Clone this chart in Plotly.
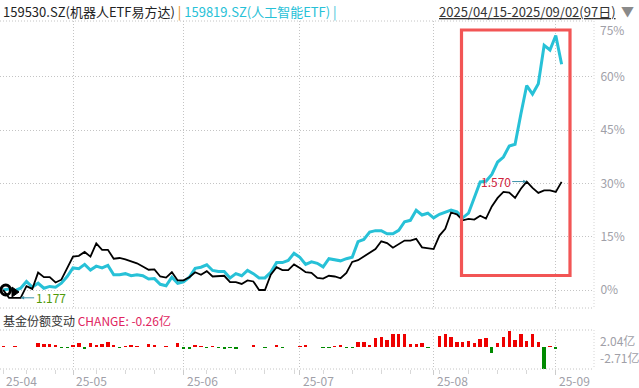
import plotly.graph_objects as go
import pandas as pd

# ---------------- data ----------------
holidays = ["2025-05-01", "2025-05-02", "2025-05-05", "2025-06-02"]
dates = [d for d in pd.bdate_range("2025-04-15", "2025-09-02") if d.strftime("%Y-%m-%d") not in holidays]
idx = list(range(len(dates)))

# 159530.SZ 机器人ETF易方达, cumulative return (%)
robot_pct = [0, -2.2, -2.2, -2.2, 1.1, 0.3, 4.9, 3.6, 3.6, 2.1,
             2.9, 6.2, 9.4, 9.6, 10.7, 9.4, 13.1, 11.3, 11.3, 8.8,
             9.0, 8.6, 8.1, 7.5, 6.6, 5.7, 5.8, 3.8, 3.5, 5.0,
             2.7, 2.7, 3.6, 5.0, 4.3, 5.3, 3.8, 3.8, 4.0, 2.2,
             2.2, 1.7, 2.7, 2.4, 0.0, 0.0, 4.3, 6.4, 5.6, 5.6,
             7.2, 6.2, 5.0, 4.8, 3.4, 3.2, 4.0, 3.8, 3.3, 4.8,
             7.9, 8.4, 9.4, 10.5, 11.5, 13.7, 13.2, 11.9, 12.9, 13.9,
             13.9, 14.4, 12.0, 11.7, 11.5, 15.3, 17.2, 21.8, 21.3, 19.6,
             20.0, 19.8, 20.9, 20.1, 23.5, 25.9, 27.6, 27.4, 25.9, 28.5,
             30.5, 28.7, 27.3, 28.0, 28.0, 27.6, 30.4]

# 159819.SZ 人工智能ETF, cumulative return (%)
ai_pct = [0, 0.3, -0.2, 0.5, 2.4, 0.8, 1.9, 0.5, 1.0, 0.8,
          1.9, 3.8, 6.2, 6.0, 7.2, 5.6, 6.7, 6.2, 6.9, 4.3,
          4.3, 4.6, 4.0, 4.3, 4.0, 3.1, 3.2, 1.6, 1.2, 3.6,
          1.9, 2.3, 3.6, 6.1, 6.4, 7.1, 5.5, 5.2, 5.2, 3.4,
          4.6, 4.0, 5.5, 4.6, 3.4, 3.4, 5.0, 7.7, 7.7, 8.3,
          10.3, 9.2, 7.2, 7.9, 7.5, 6.5, 8.8, 8.5, 8.2, 8.8,
          9.2, 13.6, 14.2, 16.3, 16.7, 16.7, 15.8, 15.8, 16.8, 19.2,
          19.6, 22.4, 21.1, 21.6, 20.3, 21.3, 21.8, 22.5, 22.0, 20.3,
          21.6, 26.0, 30.4, 30.6, 32.5, 36.0, 37.4, 40.5, 41.0, 49.5,
          57.5, 55.1, 58.0, 68.8, 67.5, 71.6, 63.5]

# 基金份额变动 (亿份)
share_chg = [0.21, 0.08, 0.21, 0.08, 0.08, 0.08, 0.58, 0.46, 0.46, 0.33,
             -0.08, -0.08, 0.33, 0.58, -0.17, 0.58, 0.33, 0.46, 0.71, 0.33,
             -0.08, 0.21, 0.33, 0.21, 0.08, 0.46, 0.33, None, 0.21, 0.08,
             0.58, -0.21, -0.21, 0.33, 0.21, -0.08, 0.21, -0.08, -0.17, -0.08,
             -0.17, None, 0.08, 0.33, 0.08, -0.08, 0.08, 0.33, -0.08, 0.08,
             None, 0.21, 0.33, 0.08, 0.08, -0.06, -0.06, 0.17, 0.25, -0.06,
             -0.06, 0.71, 0.71, 0.29, 1.21, 1.33, 0.92, 1.63, 1.75, 1.67,
             0.42, 0.42, 0.50, -0.05, None, 1.46, 1.63, 1.33, 0.63, 0.71,
             0.79, 0.58, 1.04, 1.21, -0.67, 0.58, 1.33, 2.04, 0.92, 1.63,
             0.83, 1.67, 0.71, -2.71, 0.17, -0.26, None]

robot_min_price = "1.177"
robot_max_price = "1.570"
y_ticks = [0, 15, 30, 45, 60]
y_ticktext = ["0%", "15%", "30%", "45%", "60%"]

# ---------------- helpers ----------------
W, H = 639, 388
def px_x(p):
    return p / W
def px_y(p):
    return 1 - p / H

month_idx = [i for i in range(1, len(dates)) if dates[i].month != dates[i - 1].month]
month_lbl_idx = [0] + month_idx
month_lbl = [dates[i].strftime("%y-%m") for i in month_lbl_idx]
week_idx = [0] + [i for i in range(1, len(dates)) if dates[i].isocalendar()[1] != dates[i - 1].isocalendar()[1]]

FONT = "Noto Sans CJK SC, Microsoft YaHei, sans-serif"
GRID = "#c4c4c4"
DOT = "1px,2px"

x_range = [-0.55, 101.57]
plot_right = 594

fig = go.Figure()
fig.add_trace(go.Scatter(x=idx, y=ai_pct, mode="lines", line=dict(color="#27c1d7", width=3),
                         xaxis="x", yaxis="y", hoverinfo="skip"))
fig.add_trace(go.Scatter(x=idx, y=robot_pct, mode="lines", line=dict(color="#000000", width=1.8),
                         xaxis="x", yaxis="y", hoverinfo="skip"))
bar_colors = ["#ee0000" if (v is not None and v >= 0) else "#008a00" for v in share_chg]
fig.add_trace(go.Bar(x=idx, y=share_chg, marker=dict(color=bar_colors, line=dict(width=0)),
                     width=0.58, xaxis="x2", yaxis="y2", hoverinfo="skip"))

ppp = 53.33 / 15.0  # px per percent
fig.update_layout(
    width=W, height=H,
    margin=dict(l=0, r=0, t=0, b=0),
    paper_bgcolor="white", plot_bgcolor="white",
    showlegend=False, bargap=0, hovermode=False,
    font=dict(family=FONT, size=12, color="#999999"),
    xaxis=dict(domain=[0, px_x(plot_right)], range=x_range, anchor="y",
               tickvals=month_idx, showticklabels=False, ticks="",
               showgrid=True, gridcolor=GRID, griddash=DOT, gridwidth=1,
               zeroline=False, showline=False, fixedrange=True),
    yaxis=dict(domain=[px_y(308), px_y(21)],
               range=[(290 - 308) / ppp, (290 - 21) / ppp], anchor="x", side="right",
               tickvals=y_ticks, ticktext=y_ticktext, ticks="outside", ticklen=3,
               tickcolor="rgba(0,0,0,0)",
               tickfont=dict(family=FONT, size=12, color="#a0a0a8"),
               showgrid=True, gridcolor=GRID, griddash=DOT, gridwidth=1,
               zeroline=False, showline=False, fixedrange=True),
    xaxis2=dict(domain=[0, px_x(plot_right)], range=x_range, anchor="y2", matches="x",
                tickvals=month_idx, showticklabels=False, ticks="outside", ticklen=5,
                tickcolor="#cccccc",
                minor=dict(tickvals=week_idx, ticks="outside", ticklen=4, tickcolor="#d8d8d8", showgrid=False),
                showgrid=True, gridcolor=GRID, griddash=DOT, gridwidth=1,
                zeroline=False, showline=False, fixedrange=True),
    yaxis2=dict(domain=[px_y(369), px_y(330)], range=[-2.75, 2.2], anchor="x2",
                showticklabels=False, showgrid=False, zeroline=False, fixedrange=True),
)

shapes = []
# panel borders (dotted)
for yy in (21, 308, 330, 369):
    shapes.append(dict(type="line", xref="paper", yref="paper", x0=0, x1=px_x(plot_right),
                       y0=px_y(yy), y1=px_y(yy), line=dict(color=GRID, width=1, dash=DOT)))
for (a, b) in ((21, 308), (330, 369)):
    shapes.append(dict(type="line", xref="paper", yref="paper", x0=px_x(plot_right), x1=px_x(plot_right),
                       y0=px_y(a), y1=px_y(b), line=dict(color="#d4d4d4", width=1, dash=DOT)))
# highlight box
shapes.append(dict(type="rect", xref="paper", yref="paper", x0=px_x(461.5), x1=px_x(570),
                   y0=px_y(275.5), y1=px_y(30), line=dict(color="#f25555", width=3.2)))
# small logo at the left start
shapes.append(dict(type="circle", xref="paper", yref="paper", x0=px_x(1), x1=px_x(10.5),
                   y0=px_y(295), y1=px_y(285), line=dict(color="black", width=3)))
shapes.append(dict(type="path", xref="paper", yref="paper",
                   path=f"M {px_x(12)} {px_y(287)} L {px_x(19)} {px_y(292)} L {px_x(12)} {px_y(297)} Z",
                   fillcolor="black", line=dict(color="black", width=1)))
fig.update_layout(shapes=shapes)

ann = []
# header
ann.append(dict(xref="paper", yref="paper", x=px_x(1), y=px_y(11), xanchor="left", yanchor="middle",
                showarrow=False, font=dict(family=FONT, size=13, color="#222222"),
                text="159530.SZ(机器人ETF易方达) <span style='color:#e8890c'>|</span> "
                     "<span style='color:#27c1d7'>159819.SZ(人工智能ETF) |</span>"))
ann.append(dict(xref="paper", yref="paper", x=px_x(618), y=px_y(11), xanchor="right", yanchor="middle",
                showarrow=False, font=dict(family=FONT, size=13, color="#333333"),
                text="<u>2025/04/15-2025/09/02(97日)</u>"))
ann.append(dict(xref="paper", yref="paper", x=px_x(627), y=px_y(10), xanchor="center", yanchor="middle",
                showarrow=False, font=dict(family=FONT, size=13, color="#8a8a8a"), text="▼"))
# top y label (clamped inside)
ann.append(dict(xref="paper", yref="paper", x=px_x(598), y=px_y(30), xanchor="left", yanchor="middle",
                showarrow=False, font=dict(family=FONT, size=12, color="#a0a0a8"), text="75%"))
# min / max price marks
ann.append(dict(xref="x", yref="y", x=3, y=robot_pct[3], ax=30, ay=0, text=robot_min_price,
                showarrow=True, arrowhead=2, arrowsize=0.7, arrowwidth=1, arrowcolor="#3a90a8",
                font=dict(family=FONT, size=12, color="#4f9a08")))
ann.append(dict(xref="x", yref="y", x=90, y=robot_pct[90], ax=-31, ay=0, text=robot_max_price,
                showarrow=True, arrowhead=2, arrowsize=0.7, arrowwidth=1, arrowcolor="#3a90a8",
                font=dict(family=FONT, size=12, color="#d0243c")))
# volume header
ann.append(dict(xref="paper", yref="paper", x=px_x(1), y=px_y(320), xanchor="left", yanchor="middle",
                showarrow=False, font=dict(family=FONT, size=12, color="#333333"),
                text="基金份额变动 <span style='color:#e0245e'>CHANGE: -0.26亿</span>"))
ann.append(dict(xref="paper", yref="paper", x=px_x(598), y=px_y(340), xanchor="left", yanchor="middle",
                showarrow=False, font=dict(family=FONT, size=12, color="#a0a0a8"), text="2.04亿"))
ann.append(dict(xref="paper", yref="paper", x=px_x(598), y=px_y(357), xanchor="left", yanchor="middle",
                showarrow=False, font=dict(family=FONT, size=12, color="#a0a0a8"), text="-2.71亿"))
# month labels
for i, t in zip(month_lbl_idx, month_lbl):
    ann.append(dict(xref="x2", yref="paper", x=i, y=px_y(380), xanchor="left", yanchor="middle",
                    xshift=1, showarrow=False, font=dict(family=FONT, size=12, color="#a0a0a8"), text=t))
fig.update_layout(annotations=ann)

fig.write_html("out.html", config={"displayModeBar": False, "staticPlot": True},
               post_script="document.body.style.margin='0';document.body.style.overflow='hidden';")
